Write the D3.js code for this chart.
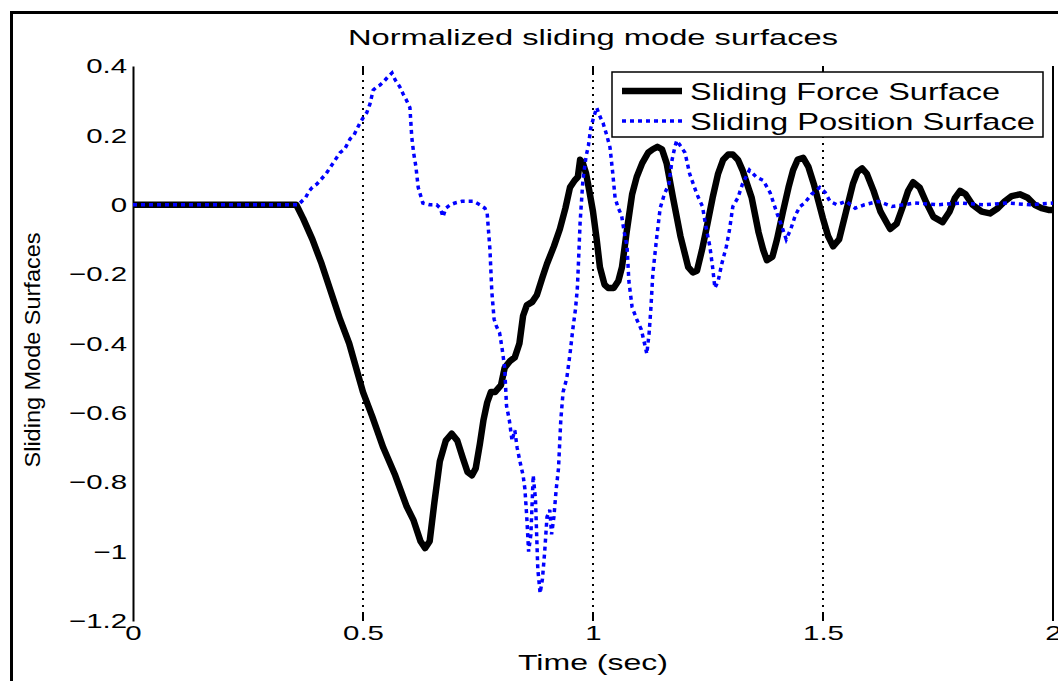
<!DOCTYPE html>
<html>
<head>
<meta charset="utf-8">
<script src="https://cdn.jsdelivr.net/npm/d3@7"></script>
<style>
  body { margin: 0; background: #fff; }
  text { font-family: "Liberation Sans", Arial, Helvetica, sans-serif; fill: #000; }
</style>
</head>
<body>
<script>
// sliding mode surfaces, normalized (MATLAB style figure)
var width = 1058,
    height = 681;

var title = 'Normalized sliding mode surfaces',
    xLabel = 'Time (sec)',
    yLabel = 'Sliding Mode Surfaces';

var seriesNames = ['Sliding Force Surface', 'Sliding Position Surface'];

var xTicks = [0, 0.5, 1, 1.5, 2];
var yTicks = [0.4, 0.2, 0, -0.2, -0.4, -0.6, -0.8, -1, -1.2];
var gridTimes = [0.5, 1, 1.5];

// sliding force surface (thick black)
var forceTime = [0, 0.1, 0.2, 0.3, 0.355, 0.37, 0.39, 0.41, 0.43, 0.45, 0.47, 0.5, 0.52, 0.544, 0.57, 0.595, 0.61, 0.625, 0.635, 0.645,
  0.655, 0.667, 0.68, 0.693, 0.705, 0.717, 0.727, 0.737, 0.745, 0.754, 0.762, 0.77, 0.778, 0.787, 0.8, 0.808, 0.82, 0.83, 0.84, 0.848,
  0.856, 0.868, 0.878, 0.89, 0.9, 0.915, 0.928, 0.94, 0.95, 0.96, 0.967, 0.972, 0.978, 0.985, 0.992, 1.0, 1.008, 1.015, 1.025, 1.033,
  1.045, 1.055, 1.063, 1.073, 1.085, 1.095, 1.107, 1.12, 1.13, 1.14, 1.15, 1.16, 1.174, 1.19, 1.207, 1.217, 1.226, 1.237, 1.248, 1.26,
  1.272, 1.283, 1.294, 1.304, 1.315, 1.325, 1.335, 1.345, 1.36, 1.37, 1.378, 1.39, 1.4, 1.413, 1.425, 1.435, 1.445, 1.457, 1.468, 1.48,
  1.49, 1.5, 1.511, 1.522, 1.535, 1.55, 1.565, 1.575, 1.585, 1.595, 1.61, 1.625, 1.646, 1.66, 1.675, 1.685, 1.696, 1.71, 1.725, 1.74,
  1.76, 1.775, 1.787, 1.798, 1.81, 1.825, 1.845, 1.863, 1.88, 1.895, 1.91, 1.928, 1.945, 1.96, 1.975, 1.99, 2.0];
var forceValue = [0, 0, 0, 0, 0, -0.04, -0.1, -0.17, -0.25, -0.33, -0.4, -0.54, -0.61, -0.7, -0.78, -0.87, -0.91, -0.97, -0.99, -0.97,
  -0.86, -0.74, -0.68, -0.66, -0.68, -0.73, -0.77, -0.78, -0.76, -0.69, -0.62, -0.57, -0.54, -0.54, -0.52, -0.47, -0.45, -0.44, -0.4, -0.32,
  -0.29, -0.28, -0.26, -0.21, -0.17, -0.12, -0.07, -0.01, 0.05, 0.07, 0.08, 0.13, 0.12, 0.09, 0.04, -0.02, -0.1, -0.18, -0.23, -0.24,
  -0.24, -0.22, -0.18, -0.08, 0.03, 0.08, 0.12, 0.15, 0.16, 0.167, 0.16, 0.12, 0.02, -0.09, -0.18, -0.195, -0.19, -0.13, -0.06, 0.02,
  0.09, 0.13, 0.145, 0.145, 0.13, 0.1, 0.06, 0.02, -0.08, -0.13, -0.16, -0.15, -0.1, -0.02, 0.05, 0.1, 0.13, 0.135, 0.11, 0.06,
  0.01, -0.04, -0.09, -0.12, -0.1, -0.02, 0.06, 0.095, 0.105, 0.09, 0.04, -0.02, -0.07, -0.055, 0, 0.04, 0.065, 0.05, 0.005, -0.035,
  -0.05, -0.02, 0.02, 0.04, 0.03, 0, -0.02, -0.025, -0.01, 0.01, 0.025, 0.03, 0.02, 0, -0.01, -0.015, -0.015];

// sliding position surface (blue dotted)
var positionTime = [0, 0.36, 0.363, 0.375, 0.383, 0.39, 0.4, 0.41, 0.42, 0.43, 0.44, 0.45, 0.46, 0.472, 0.48, 0.493, 0.5, 0.508, 0.515, 0.522,
  0.53, 0.537, 0.545, 0.555, 0.563, 0.57, 0.58, 0.587, 0.595, 0.602, 0.606, 0.61, 0.615, 0.62, 0.63, 0.645, 0.66, 0.668, 0.674, 0.68,
  0.69, 0.7, 0.715, 0.726, 0.74, 0.754, 0.765, 0.77, 0.776, 0.78, 0.785, 0.79, 0.797, 0.803, 0.808, 0.812, 0.818, 0.824, 0.83, 0.835,
  0.842, 0.848, 0.852, 0.856, 0.86, 0.865, 0.87, 0.875, 0.88, 0.885, 0.89, 0.895, 0.9, 0.906, 0.91, 0.915, 0.92, 0.925, 0.93, 0.935,
  0.943, 0.95, 0.956, 0.962, 0.966, 0.968, 0.972, 0.978, 0.985, 0.99, 0.995, 1.0, 1.008, 1.015, 1.022, 1.03, 1.037, 1.043, 1.048, 1.055,
  1.062, 1.068, 1.074, 1.078, 1.085, 1.095, 1.105, 1.112, 1.117, 1.122, 1.126, 1.13, 1.138, 1.146, 1.155, 1.165, 1.172, 1.178, 1.182, 1.19,
  1.2, 1.21, 1.218, 1.226, 1.238, 1.245, 1.254, 1.26, 1.265, 1.272, 1.28, 1.29, 1.297, 1.304, 1.315, 1.325, 1.34, 1.355, 1.37, 1.385,
  1.4, 1.41, 1.42, 1.43, 1.44, 1.45, 1.46, 1.475, 1.493, 1.505, 1.515, 1.53, 1.55, 1.57, 1.59, 1.62, 1.65, 1.7, 1.75, 1.8,
  1.85, 1.9, 1.95, 2.0];
var positionValue = [0, 0, 0.005, 0.02, 0.04, 0.05, 0.06, 0.075, 0.09, 0.11, 0.13, 0.15, 0.16, 0.19, 0.2, 0.235, 0.25, 0.265, 0.29, 0.33,
  0.34, 0.345, 0.355, 0.37, 0.38, 0.36, 0.34, 0.32, 0.3, 0.28, 0.195, 0.15, 0.11, 0.05, 0.005, 0, 0, -0.01, -0.035, -0.01,
  0, 0.005, 0.01, 0.01, 0.01, 0, -0.01, -0.025, -0.13, -0.25, -0.33, -0.35, -0.37, -0.42, -0.47, -0.58, -0.62, -0.68, -0.65, -0.7,
  -0.745, -0.78, -0.82, -0.9, -1.0, -0.95, -0.78, -0.85, -1.05, -1.12, -1.08, -1.0, -0.9, -0.88, -0.95, -0.9, -0.82, -0.76, -0.62, -0.54,
  -0.5, -0.43, -0.36, -0.3, -0.24, -0.18, -0.05, 0.07, 0.14, 0.17, 0.22, 0.245, 0.28, 0.255, 0.235, 0.2, 0.165, 0.09, 0.02, -0.01,
  -0.03, -0.08, -0.12, -0.22, -0.295, -0.33, -0.36, -0.4, -0.43, -0.37, -0.295, -0.2, -0.1, -0.01, 0.03, 0.06, 0.13, 0.167, 0.185, 0.17,
  0.15, 0.09, 0.06, 0.03, -0.005, -0.06, -0.12, -0.18, -0.24, -0.22, -0.17, -0.12, -0.07, -0.005, 0.02, 0.06, 0.1, 0.08, 0.07, 0.035,
  -0.025, -0.06, -0.1, -0.07, -0.03, -0.005, 0.005, 0.03, 0.05, 0.035, 0.01, 0, 0.01, -0.01, 0, 0.01, -0.005, 0.005, 0, 0.005,
  0, 0.005, 0, 0.005];

var svg = d3.select('body').append('svg')
  .attr('width', width)
  .attr('height', height);

// the original picture is stretched sideways, so text is widened too
function stretch(sel, k) {
  sel.each(function() {
    var w = this.getComputedTextLength();
    d3.select(this).attr('textLength', w * k).attr('lengthAdjust', 'spacingAndGlyphs');
  });
}

// figure frame
svg.append('rect')
  .attr('x', 11.5).attr('y', 12.5)
  .attr('width', 1070).attr('height', 700)
  .attr('fill', 'none')
  .attr('stroke', '#000')
  .attr('stroke-width', 3);

var x = d3.scaleLinear().domain([0, 2]).range([133, 1053]);
var y = d3.scaleLinear().domain([-1.2, 0.4]).range([621, 66]);

var fmt = function(d) { return d < 0 ? '\u2212' + d3.format('')(-d) : d3.format('')(d); };

// grid lines (dotted) with small inward ticks at top and bottom
svg.selectAll('line.grid')
  .data(gridTimes)
  .enter()
  .append('line')
  .attr('class', 'grid')
  .attr('x1', function(d) { return x(d); })
  .attr('x2', function(d) { return x(d); })
  .attr('y1', y(0.4))
  .attr('y2', y(-1.2))
  .attr('stroke', '#000')
  .attr('stroke-width', 2)
  .attr('stroke-dasharray', '2,5');

[y(0.4), y(-1.2) - 7].forEach(function(ty) {
  svg.selectAll(null)
    .data(gridTimes)
    .enter()
    .append('line')
    .attr('x1', function(d) { return x(d); })
    .attr('x2', function(d) { return x(d); })
    .attr('y1', ty)
    .attr('y2', ty + 7)
    .attr('stroke', '#000')
    .attr('stroke-width', 2);
});

// axes
var yAxis = svg.append('g')
  .attr('transform', 'translate(' + x(0) + ',0)')
  .call(d3.axisLeft(y).tickValues(yTicks).tickSize(0).tickPadding(6).tickFormat(fmt));
yAxis.select('.domain').attr('stroke', '#000').attr('stroke-width', 2);
yAxis.selectAll('text').attr('font-size', '21px').attr('font-family', '"Liberation Sans", Arial, sans-serif').attr('fill', '#000');
stretch(yAxis.selectAll('text'), 1.4);

var xAxis = svg.append('g')
  .attr('transform', 'translate(0,' + y(-1.2) + ')')
  .call(d3.axisBottom(x).tickValues(xTicks).tickSize(0).tickPadding(4).tickFormat(d3.format('')));
xAxis.select('.domain').remove();
xAxis.selectAll('text').attr('font-size', '21px').attr('font-family', '"Liberation Sans", Arial, sans-serif').attr('fill', '#000');
stretch(xAxis.selectAll('text'), 1.4);

// right border of the axes
svg.append('line')
  .attr('x1', x(2)).attr('x2', x(2))
  .attr('y1', y(0.4)).attr('y2', y(-1.2))
  .attr('stroke', '#000')
  .attr('stroke-width', 2);

// series
var line = d3.line()
  .x(function(d) { return x(d[0]); })
  .y(function(d) { return y(d[1]); });

svg.append('path')
  .datum(d3.zip(forceTime, forceValue))
  .attr('d', line)
  .attr('fill', 'none')
  .attr('stroke', '#000')
  .attr('stroke-width', 6.5)
  .attr('stroke-linejoin', 'round');

svg.append('path')
  .datum(d3.zip(positionTime, positionValue))
  .attr('d', line)
  .attr('fill', 'none')
  .attr('stroke', '#0000ff')
  .attr('stroke-width', 3.5)
  .attr('stroke-dasharray', '4,4');

// titles
svg.append('text')
  .attr('x', 593).attr('y', 45)
  .attr('text-anchor', 'middle')
  .attr('font-size', '22px')
  .attr('textLength', 490).attr('lengthAdjust', 'spacingAndGlyphs')
  .text(title);

svg.append('text')
  .attr('x', 593).attr('y', 670)
  .attr('text-anchor', 'middle')
  .attr('font-size', '22px')
  .attr('textLength', 150).attr('lengthAdjust', 'spacingAndGlyphs')
  .text(xLabel);

svg.append('text')
  .attr('transform', 'translate(40,350) rotate(-90)')
  .attr('text-anchor', 'middle')
  .attr('font-size', '22px')
  .attr('textLength', 235).attr('lengthAdjust', 'spacingAndGlyphs')
  .text(yLabel);

// legend
var legend = svg.append('g');
legend.append('rect')
  .attr('x', 612).attr('y', 72)
  .attr('width', 431).attr('height', 65)
  .attr('fill', '#fff')
  .attr('stroke', '#000')
  .attr('stroke-width', 1.5);

var legendStyle = [
  { stroke: '#000', width: 6.5, dash: null, len: 310 },
  { stroke: '#0000ff', width: 3.5, dash: '4,4', len: 345 }
];

seriesNames.forEach(function(name, i) {
  var ly = 91 + i * 30;
  legend.append('line')
    .attr('x1', 622).attr('x2', 682)
    .attr('y1', ly).attr('y2', ly)
    .attr('stroke', legendStyle[i].stroke)
    .attr('stroke-width', legendStyle[i].width)
    .attr('stroke-dasharray', legendStyle[i].dash);
  legend.append('text')
    .attr('x', 690).attr('y', ly + 9)
    .attr('font-size', '24px')
    .attr('textLength', legendStyle[i].len).attr('lengthAdjust', 'spacingAndGlyphs')
    .text(name);
});
</script>
</body>
</html>
